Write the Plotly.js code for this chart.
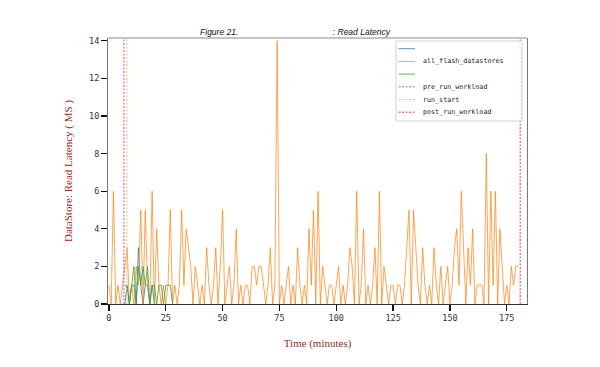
<!DOCTYPE html>
<html>
<head>
<meta charset="utf-8">
<script src="https://cdn.plot.ly/plotly-3.0.1.min.js"></script>
<style>html,body{margin:0;padding:0;background:#fff;}#chart{width:600px;height:367px;}</style>
</head>
<body>
<div id="chart"></div>
<script>
// Orange series: all_flash_datastores, one sample per minute, t = 0..180
const flashTimes = Array.from({length: 181}, (_, i) => i);
const flashValues = [
  1,0,6,0,1,0,1,2,3,0,
  1,0,2,1,5,0,5,1,0,6,
  0,4,1,0,1,0,1,5,0,1,
  0,1,5,1,4,3,2,0,2,1,
  0,1,0,3,1,0,1,3,0,2,
  5,0,1,2,0,1,4,0,1,0,
  1,1,0,2,2,1,2,2,1,0,
  1,3,0,1,14,0,1,0,1,2,
  0,1,0,3,1,0,1,0,4,1,
  5,0,6,0,2,1,0,1,1,0,
  1,2,0,1,0,1,3,2,0,6,
  0,1,4,0,1,0,1,3,0,6,
  0,2,1,0,1,1,0,1,1,0,
  1,3,5,0,5,3,1,0,3,1,
  0,1,0,3,1,0,2,0,1,2,
  0,1,3,4,1,6,3,0,3,1,
  4,0,1,1,1,0,8,0,6,1,
  6,0,4,2,0,1,0,2,1,2,
  2
];
// Blue series (unnamed), t = 7..20
const blueTimes = Array.from({length: 14}, (_, i) => 7 + i);
const blueValues = [0,1,0,1,1,0,3,1,0,1,1,0,1,0];
// Green series (unnamed), t = 7..28
const greenTimes = Array.from({length: 22}, (_, i) => 7 + i);
const greenValues = [1,1,0,1,2,0,2,1,2,1,2,0,1,1,0,1,1,0,1,1,1,0];
// Event markers
const eventNames = ["pre_run_workload", "run_start", "post_run_workload"];
const eventTimes = [6.6, 7.9, 180.9];
const eventColors = ["#c94fd0", "#d9cf45", "#e0403a"];
const yMax = 14.15;
const xTicks = [0, 25, 50, 75, 100, 125, 150, 175];

const seriesColors = ["#1f77b4", "#ff7f0e", "#2ca02c"];
const legendLabels = ["", "all_flash_datastores", "", "pre_run_workload", "run_start", "post_run_workload"];

const traces = [
  {x: blueTimes, y: blueValues, name: " ", type: "scatter", mode: "lines",
   line: {color: seriesColors[0], width: 1}, opacity: 0.75, showlegend: false},
  {x: flashTimes, y: flashValues, name: "all_flash_datastores", type: "scatter", mode: "lines",
   line: {color: seriesColors[1], width: 1}, opacity: 0.7, showlegend: false},
  {x: greenTimes, y: greenValues, name: "  ", type: "scatter", mode: "lines",
   line: {color: seriesColors[2], width: 1}, opacity: 0.75, showlegend: false}
];
eventNames.forEach((n, i) => {
  traces.push({x: [eventTimes[i], eventTimes[i]], y: [0, yMax], name: n, type: "scatter", mode: "lines",
    line: {color: eventColors[i], width: 1, dash: "2px,1.5px"}, showlegend: false});
});

// plot-area geometry (pixels) for a compact legend box like the original
const M = {l: 108, r: 73, t: 38, b: 63};
const W = 600, H = 367;
const pw = W - M.l - M.r, ph = H - M.t - M.b;
const px = x => (x - M.l) / pw;
const py = y => (H - M.b - y) / ph;

const shapes = [
  {type: "line", xref: "paper", yref: "paper", x0: 0, x1: 1, y0: 1, y1: 1, line: {color: "#888", width: 1}},
  {type: "rect", xref: "paper", yref: "paper", x0: px(396), x1: px(522), y0: py(121), y1: py(41),
   line: {color: "#d0d0d0", width: 1}, fillcolor: "rgba(255,255,255,0.85)"}
];
const annotations = [];
const legendColors = seriesColors.concat(eventColors);
legendLabels.forEach((lab, i) => {
  const yc = 48.7 + i * 12.7;
  shapes.push({type: "line", xref: "paper", yref: "paper", x0: px(398.5), x1: px(415), y0: py(yc), y1: py(yc),
    line: {color: legendColors[i], width: 1, dash: i >= 3 ? "2px,1.5px" : "solid"}, opacity: i >= 3 ? 1 : 0.75});
  if (lab) annotations.push({xref: "paper", yref: "paper", x: px(421), y: py(yc), xanchor: "left", yanchor: "middle",
    text: lab, showarrow: false, font: {family: "DejaVu Sans Mono", size: 6.7, color: "#1a1a1a"}});
});

const tickFont = {family: "DejaVu Sans Mono", size: 8.5, color: "#333"};
const titleFont = {family: "Liberation Serif", size: 11, color: "#962a2a"};
const sp = "\u00A0".repeat(40);

const layout = {
  width: W, height: H,
  margin: M,
  paper_bgcolor: "#fff", plot_bgcolor: "#fff",
  title: {text: "Figure 21." + sp + ": Read Latency",
    font: {family: "Liberation Sans", size: 8.5, color: "#111", style: "italic"},
    x: 0.4917, xref: "container", xanchor: "center", y: 1 - 32/367, yref: "container", yanchor: "middle"},
  xaxis: {range: [-0.4, 183.9], tickvals: xTicks, ticks: "outside", ticklen: 6, tickwidth: 1.3, tickcolor: "#111",
    showgrid: false, zeroline: false, showline: true, linecolor: "#333", linewidth: 1,
    tickfont: tickFont,
    title: {text: "Time (minutes)", font: titleFont, standoff: 17}},
  yaxis: {range: [0, yMax], dtick: 2, ticks: "outside", ticklen: 6, tickwidth: 1.3, tickcolor: "#111",
    showgrid: false, zeroline: false, showline: true, mirror: true, linecolor: "#777", linewidth: 1,
    tickfont: tickFont,
    title: {text: "DataStore: Read Latency ( MS )", font: titleFont, standoff: 14}},
  shapes: shapes,
  annotations: annotations,
  showlegend: false
};
Plotly.newPlot("chart", traces, layout, {displayModeBar: false, staticPlot: true});
</script>
</body>
</html>
